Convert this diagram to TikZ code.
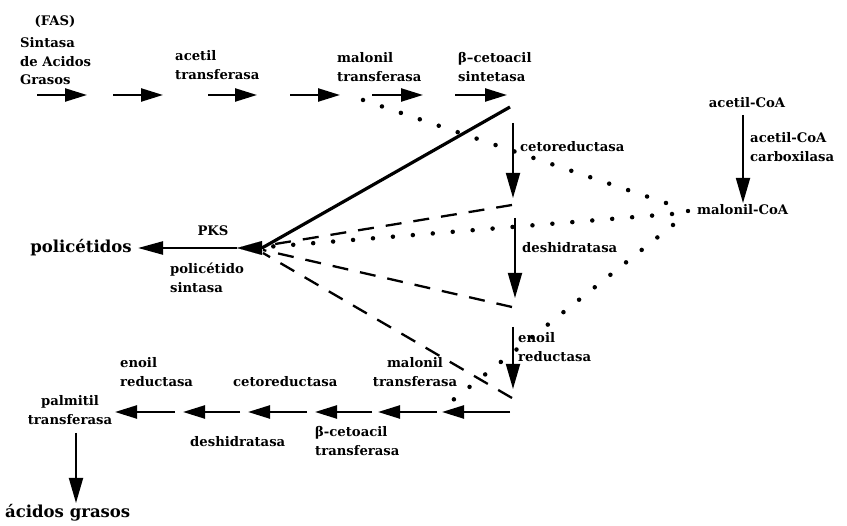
\documentclass[tikz,border=0pt]{standalone}
\usepackage{fontspec}
\setmainfont{DejaVu Serif}
\usetikzlibrary{arrows.meta}
\begin{document}
\begin{tikzpicture}[x=1pt,y=-1pt,
  lbl/.style={inner sep=0pt,font=\fontsize{13.2}{19.5}\selectfont\bfseries,align=left},
  lblw/.style={lbl,anchor=west},
  title/.style={inner sep=0pt,font=\fontsize{16.5}{19}\selectfont\bfseries},
  harrow/.style={line width=2.3pt,-{Triangle[length=22pt,width=13pt]}},
  varrow/.style={line width=1.8pt,-{Triangle[length=25pt,width=14pt]}},
  headonly/.style={line width=0.1pt,-{Triangle[length=25pt,width=14pt]}},
  solidln/.style={line width=3.2pt},
  dashln/.style={line width=2.3pt,dash pattern=on 16pt off 12pt},
  dotln/.style={line width=4.5pt,line cap=round,dash pattern=on 0pt off 20pt}]
\path[use as bounding box] (0,0) rectangle (847,526);

% labels
\node[lbl] (fas) at (55,22) {(FAS)};
\node[lblw] (sag) at (20,61.5) {Sintasa\\[-1pt]de Acidos\\[-1pt]Grasos};
\node[lblw] (at) at (175,65) {acetil\\transferasa};
\node[lblw] (mt) at (337,67) {malonil\\transferasa};
\node[lblw] (bs) at (458,67) {β–cetoacil\\sintetasa};
\node[lblw] (cr) at (520,147) {cetoreductasa};
\node[lblw] (dh) at (522,248) {deshidratasa};
\node[lblw] (er) at (518,347) {enoil\\reductasa};
\node[lbl] (acoa) at (747,103) {acetil-CoA};
\node[lblw] (acc) at (750,147) {acetil-CoA\\carboxilasa};
\node[lblw] (mcoa) at (697,210) {malonil-CoA};
\node[lbl] (pks) at (213,231) {PKS};
\node[title] (pol) at (81,248) {policétidos};
\node[lblw] (ps) at (170,278) {policétido\\sintasa};
\node[lblw] (er2) at (120,372) {enoil\\reductasa};
\node[lblw] (cr2) at (233,382) {cetoreductasa};
\node[lbl,align=center] (mt2) at (415,372) {malonil\\transferasa};
\node[lbl,align=center] (pt) at (70,410) {palmitil\\transferasa};
\node[lblw] (dh2) at (190,442) {deshidratasa};
\node[lblw] (bt) at (315,441) {β-cetoacil\\transferasa};
\node[title,anchor=west] (ag) at (5,513) {ácidos grasos};

% horizontal arrows
\foreach \n/\a/\b in {1/37/87,2/113/163,3/208/257,4/290/340,5/372/423,6/455/507}{
  \coordinate (ts\n) at (\a,95); \coordinate (te\n) at (\b,95);
  \draw[harrow] (ts\n) -- (te\n);}
\foreach \n/\a/\b in {1/510/442,2/437/378,3/372/315,4/307/248,5/240/183,6/175/115}{
  \coordinate (bs\n) at (\a,412); \coordinate (be\n) at (\b,412);
  \draw[harrow] (bs\n) -- (be\n);}

% vertical arrows
\coordinate (v1s) at (513,123); \coordinate (v1e) at (513,198);
\coordinate (v2s) at (515,218); \coordinate (v2e) at (515,298);
\coordinate (v3s) at (513,327); \coordinate (v3e) at (513,389);
\coordinate (v4s) at (743,115); \coordinate (v4e) at (743,203);
\coordinate (v5s) at (76,433);  \coordinate (v5e) at (76,503);
\foreach \n in {1,...,5}{\draw[varrow] (v\n s) -- (v\n e);}

% PKS
\coordinate (pk) at (262,248);
\coordinate (pkt) at (237,248);
\coordinate (pol e) at (138,248);
\draw[headonly] (pk) -- (pkt);
\draw[harrow,-{Triangle[length=25pt,width=13pt]}] (pkt) -- (pol e);

% converging lines
\coordinate (sol) at (510,107);
\draw[solidln] (sol) -- (pk);
\coordinate (d1) at (512,205);
\coordinate (d2) at (512,307);
\coordinate (d3) at (512,398);
\coordinate (c1) at (263,246);
\coordinate (c2) at (263,250);
\coordinate (c3) at (263,253);
\draw[dashln] (d1) -- (c1);
\draw[dashln] (d2) -- (c2);
\draw[dashln] (d3) -- (c3);

% dotted lines
\coordinate (m0) at (363,100);
\coordinate (m1) at (672,205);
\coordinate (m2) at (672,214);
\coordinate (m3) at (673,225);
\coordinate (m4) at (443,408);
\coordinate (m5) at (266,247);
\draw[dotln] (m0) -- (m1);
\draw[dotln] (m2) -- (m5);
\draw[dotln] (m3) -- (m4);
\fill (688,211) circle (2.2pt);
\end{tikzpicture}
\end{document}
